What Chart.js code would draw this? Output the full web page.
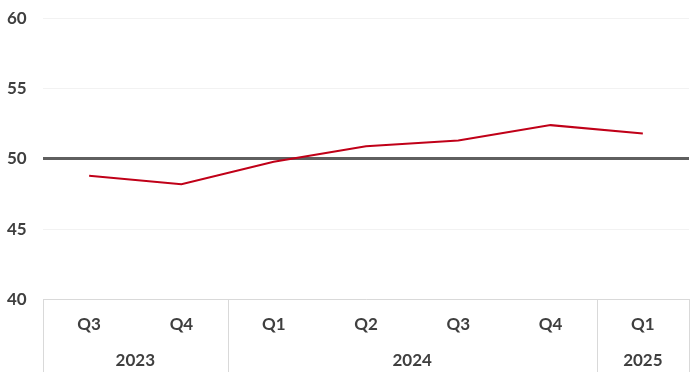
<!DOCTYPE html>
<html>
<head>
<meta charset="utf-8">
<script src="https://cdn.jsdelivr.net/npm/chart.js@4.4.1/dist/chart.umd.min.js"></script>
<style>
html,body{margin:0;padding:0;background:#fff;}
#wrap{width:700px;height:377px;position:relative;}
</style>
</head>
<body>
<div id="wrap"><canvas id="c"></canvas></div>
<script>
const quarters = ["Q3", "Q4", "Q1", "Q2", "Q3", "Q4", "Q1"];
const years = ["2023", "2024", "2025"];
const yearSpans = [2, 4, 1];
const values = [48.8, 48.2, 49.8, 50.9, 51.3, 52.4, 51.8];
const yTicks = [40, 45, 50, 55, 60];
const refLevel = 50;

const FONT = "Lato, 'Open Sans', sans-serif";
const TXT = "#3f3f3f";

const groupPlugin = {
  id: "groups",
  afterDraw(chart) {
    const ctx = chart.ctx;
    const xs = chart.scales.x;
    const area = chart.chartArea;
    const n = quarters.length;
    const step = n > 1 ? xs.getPixelForValue(1) - xs.getPixelForValue(0) : 0;
    const boundary = i => xs.getPixelForValue(i) - step / 2;
    ctx.save();
    ctx.strokeStyle = "#d9d9d9";
    ctx.lineWidth = 1;
    let idx = 0;
    const edges = [0];
    yearSpans.forEach(s => { idx += s; edges.push(idx); });
    edges.forEach(e => {
      const x = Math.round(boundary(e)) + 0.5;
      ctx.beginPath();
      ctx.moveTo(x, area.bottom);
      ctx.lineTo(x, chart.height - 5);
      ctx.stroke();
    });
    ctx.fillStyle = TXT;
    ctx.font = "bold 17px " + FONT;
    ctx.textAlign = "center";
    ctx.textBaseline = "middle";
    let start = 0;
    years.forEach((y, k) => {
      const end = start + yearSpans[k] - 1;
      const cx = (xs.getPixelForValue(start) + xs.getPixelForValue(end)) / 2;
      ctx.fillText(y, cx, area.bottom + 61);
      start += yearSpans[k];
    });
    ctx.restore();
  }
};

new Chart(document.getElementById("c"), {
  type: "line",
  data: {
    labels: quarters,
    datasets: [{
      data: values,
      borderColor: "#c00018",
      borderWidth: 2,
      pointRadius: 0,
      tension: 0,
      fill: false
    }]
  },
  options: {
    responsive: true,
    maintainAspectRatio: false,
    animation: false,
    layout: { padding: { left: 7, right: 11, top: 16, bottom: 27 } },
    plugins: { legend: { display: false }, tooltip: { enabled: false } },
    scales: {
      x: {
        offset: true,
        grid: { display: false, drawOnChartArea: false, drawTicks: false },
        border: { display: true, color: "#d9d9d9", width: 1 },
        ticks: { color: TXT, font: { family: FONT, size: 17, weight: "bold" }, padding: 15, maxRotation: 0, autoSkip: false }
      },
      y: {
        min: 40, max: 60,
        afterBuildTicks(scale) { scale.ticks = yTicks.map(v => ({ value: v })); },
        afterFit(scale) { scale.width = 36; },
        grid: {
          drawTicks: false,
          color: c => c.tick && c.tick.value === refLevel ? "#5f5f5f" : "#f2f2f2",
          lineWidth: c => c.tick && c.tick.value === refLevel ? 3 : 1
        },
        border: { display: false },
        ticks: { color: TXT, font: { family: FONT, size: 17, weight: "bold" }, padding: 8, crossAlign: "far" }
      }
    }
  },
  plugins: [groupPlugin]
});
</script>
</body>
</html>
